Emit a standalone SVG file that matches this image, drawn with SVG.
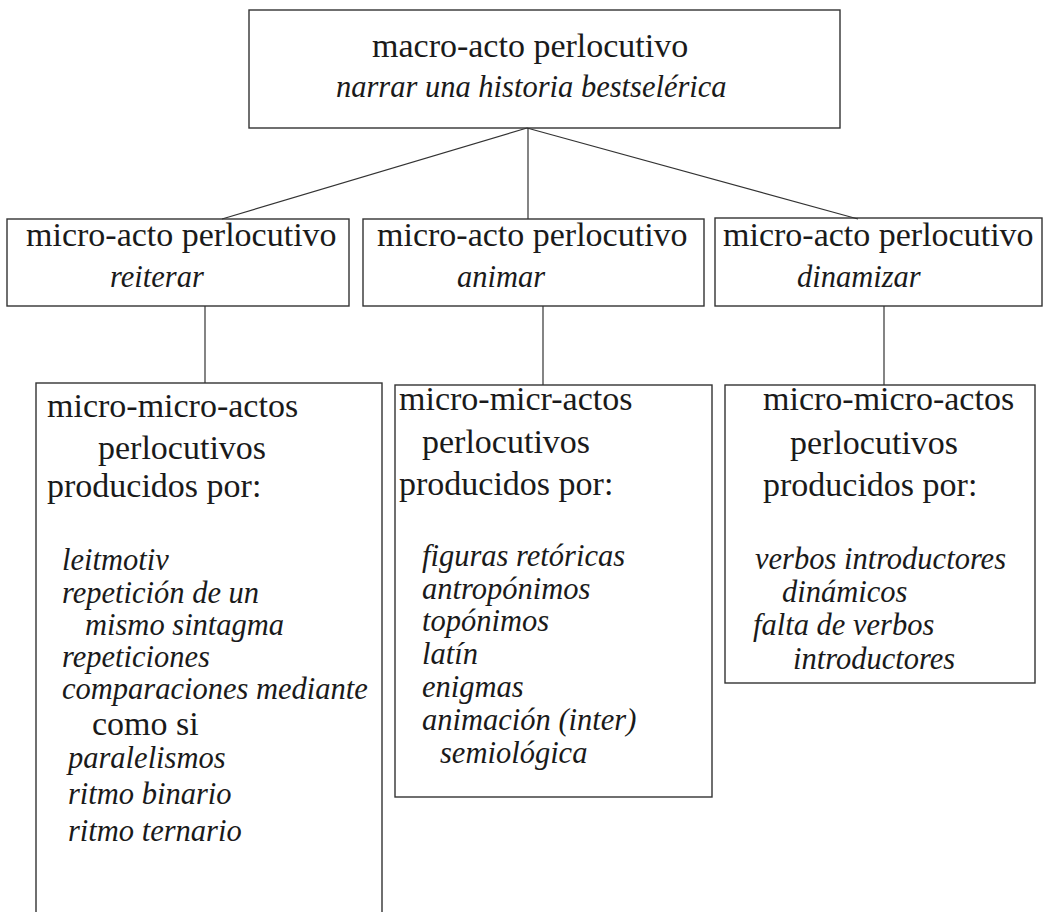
<svg xmlns="http://www.w3.org/2000/svg" width="1044" height="912" viewBox="0 0 1044 912">
<style>
.box{fill:none;stroke:#333;stroke-width:1.4}
.ln{fill:none;stroke:#333;stroke-width:1.2}
.r{font-family:"Liberation Serif","Times New Roman",serif;font-size:34px;fill:#1a1a1a}
.i{font-family:"Liberation Serif","Times New Roman",serif;font-size:30.5px;font-style:italic;fill:#1a1a1a}
</style>
<rect width="1044" height="912" fill="#fff"/>
<g id="connectors">
<line class="ln" x1="527" y1="128" x2="222" y2="219"/>
<line class="ln" x1="528" y1="128" x2="528" y2="219"/>
<line class="ln" x1="527" y1="128" x2="858" y2="219"/>
<line class="ln" x1="205" y1="306" x2="205" y2="383"/>
<line class="ln" x1="543" y1="306" x2="543" y2="385"/>
<line class="ln" x1="884" y1="306" x2="884" y2="385"/>
</g>
<g id="macro">
<rect class="box" x="249" y="10" width="591" height="118"/>
<text class="r" x="372" y="57">macro-acto perlocutivo</text>
<text class="i" x="336" y="97">narrar una historia bestselérica</text>
</g>
<g id="micro-reiterar">
<rect class="box" x="7" y="219" width="342" height="87"/>
<text class="r" x="26" y="246">micro-acto perlocutivo</text>
<text class="i" x="110" y="287">reiterar</text>
</g>
<g id="micro-animar">
<rect class="box" x="363" y="219" width="341" height="87"/>
<text class="r" x="377" y="246">micro-acto perlocutivo</text>
<text class="i" x="457" y="287">animar</text>
</g>
<g id="micro-dinamizar">
<rect class="box" x="715" y="218" width="327" height="88"/>
<text class="r" x="723" y="246">micro-acto perlocutivo</text>
<text class="i" x="797" y="287">dinamizar</text>
</g>
<g id="mm-reiterar">
<rect class="box" x="36" y="383" width="346" height="545"/>
<text class="r" x="47" y="417">micro-micro-actos</text>
<text class="r" x="98" y="459">perlocutivos</text>
<text class="r" x="47" y="497">producidos por:</text>
<text class="i" x="62" y="570">leitmotiv</text>
<text class="i" x="62" y="603">repetición de un</text>
<text class="i" x="85" y="635">mismo sintagma</text>
<text class="i" x="62" y="667">repeticiones</text>
<text class="i" x="62" y="699">comparaciones mediante</text>
<text class="r" x="92" y="735">como si</text>
<text class="i" x="68" y="768">paralelismos</text>
<text class="i" x="68" y="804">ritmo binario</text>
<text class="i" x="68" y="841">ritmo ternario</text>
</g>
<g id="mm-animar">
<rect class="box" x="395" y="385" width="317" height="412"/>
<text class="r" x="399" y="410">micro-micr-actos</text>
<text class="r" x="422" y="453">perlocutivos</text>
<text class="r" x="399" y="495">producidos por:</text>
<text class="i" x="422" y="566">figuras retóricas</text>
<text class="i" x="422" y="599">antropónimos</text>
<text class="i" x="422" y="631">topónimos</text>
<text class="i" x="422" y="664">latín</text>
<text class="i" x="422" y="697">enigmas</text>
<text class="i" x="422" y="730">animación (inter)</text>
<text class="i" x="440" y="763">semiológica</text>
</g>
<g id="mm-dinamizar">
<rect class="box" x="725" y="385" width="310" height="298"/>
<text class="r" x="763" y="410">micro-micro-actos</text>
<text class="r" x="790" y="454">perlocutivos</text>
<text class="r" x="763" y="496">producidos por:</text>
<text class="i" x="755" y="569">verbos introductores</text>
<text class="i" x="782" y="602">dinámicos</text>
<text class="i" x="753" y="635">falta de verbos</text>
<text class="i" x="793" y="669">introductores</text>
</g>
</svg>
